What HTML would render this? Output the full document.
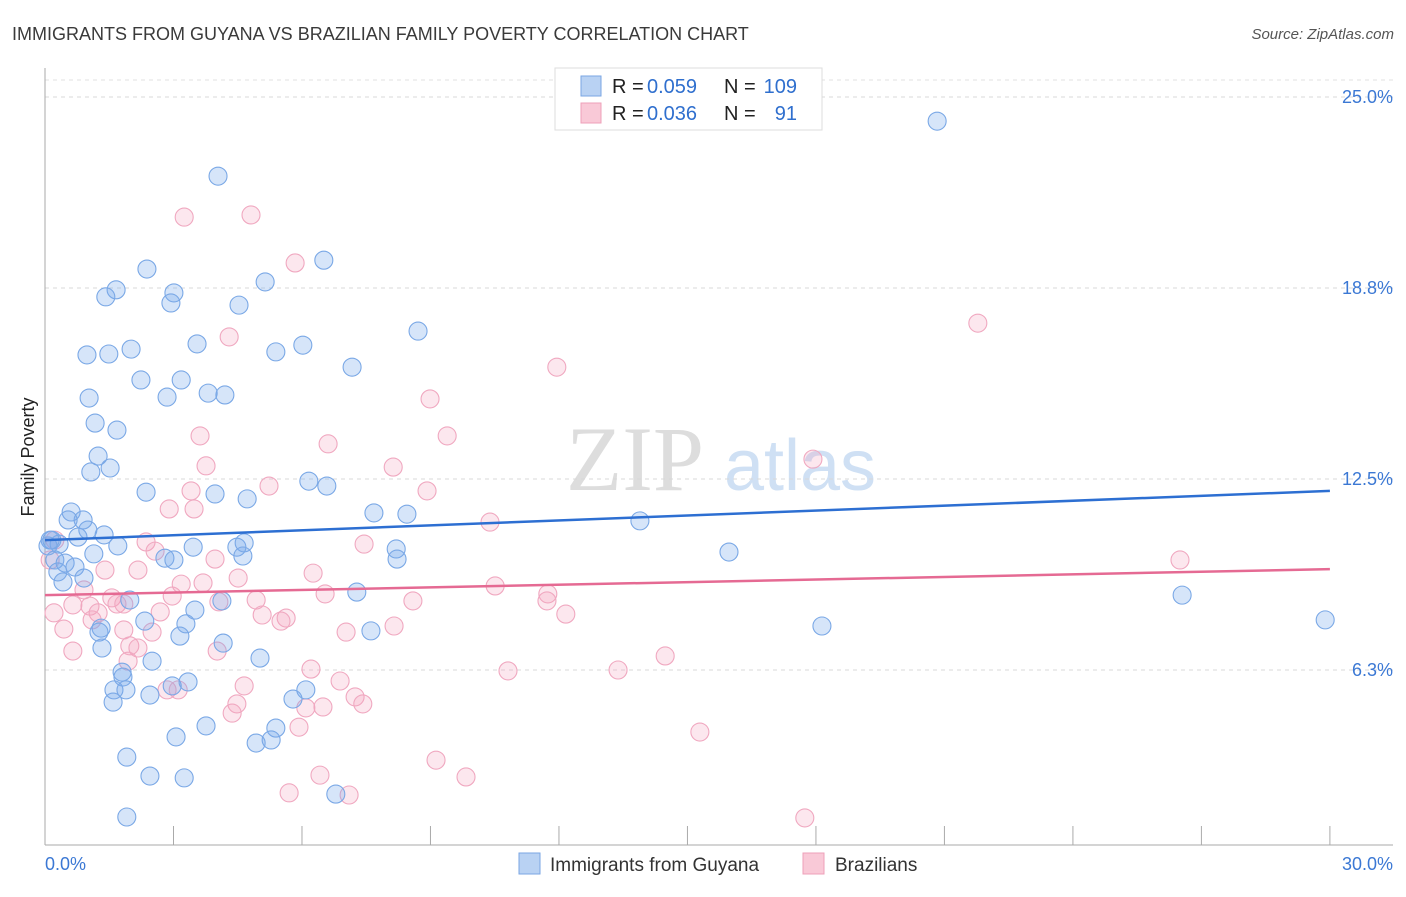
<!DOCTYPE html>
<html><head><meta charset="utf-8"><style>
body{margin:0;background:#fff;font-family:"Liberation Sans",sans-serif;}
#wrap{position:relative;width:1406px;height:892px;}
</style></head><body>
<div id="wrap">
<svg id="svg" width="1406" height="892">
<text x="12" y="40" font-size="18" fill="#3a3a3a">IMMIGRANTS FROM GUYANA VS BRAZILIAN FAMILY POVERTY CORRELATION CHART</text>
<text x="1394" y="39" font-size="15" fill="#555" font-style="italic" text-anchor="end">Source: ZipAtlas.com</text>
<text x="34" y="457" font-size="18" fill="#222" transform="rotate(-90 34 457)" text-anchor="middle">Family Poverty</text>
<g><text x="635" y="490" font-size="92" fill="#ddd" font-family="Liberation Serif,serif" text-anchor="middle">ZIP</text><text x="800" y="490" font-size="72" fill="#cfe0f4" text-anchor="middle">atlas</text></g>
<g id="grid"></g><g id="axes"></g><g id="pts"></g><g id="trend"></g>
<g>
<rect x="555" y="68" width="267" height="62" fill="#fff" stroke="#ddd"/>
<rect x="581" y="76" width="20" height="20" fill="#b9d2f3" stroke="#7aa6e3"/>
<rect x="581" y="103" width="20" height="20" fill="#f9c9d7" stroke="#eea0b8"/>
<text x="612" y="93" font-size="20" fill="#222">R =</text><text x="647" y="93" font-size="20" fill="#2f6fce">0.059</text>
<text x="724" y="93" font-size="20" fill="#222">N =</text><text x="797" y="93" font-size="20" fill="#2f6fce" text-anchor="end">109</text>
<text x="612" y="120" font-size="20" fill="#222">R =</text><text x="647" y="120" font-size="20" fill="#2f6fce">0.036</text>
<text x="724" y="120" font-size="20" fill="#222">N =</text><text x="797" y="120" font-size="20" fill="#2f6fce" text-anchor="end">91</text>
</g>
<g>
<rect x="519" y="853" width="21" height="21" fill="#b9d2f3" stroke="#7aa6e3"/>
<text x="550" y="871" font-size="19" fill="#333">Immigrants from Guyana</text>
<rect x="803" y="853" width="21" height="21" fill="#f9c9d7" stroke="#eea0b8"/>
<text x="835" y="871" font-size="19" fill="#333">Brazilians</text>
</g>
</svg></div>
<script>
const yTicks=[6.25,12.5,18.75,25];
const yTickLabels=["6.3%","12.5%","18.8%","25.0%"];
const xTicks=[0,3,6,9,12,15,18,21,24,27,30];
const xLabels=["0.0%","30.0%"];
const blueX=[20.83,4.04,6.51,2.38,5.14,1.66,1.42,3.01,2.94,4.53,8.71,2.01,1.49,0.98,3.55,5.39,6.02,7.17,2.24,3.18,1.03,2.85,3.81,4.20,1.17,1.68,1.24,1.52,1.07,6.16,6.58,2.36,3.97,4.72,0.61,0.89,0.54,7.68,8.45,13.89,1.00,1.38,0.77,0.16,0.33,1.70,3.46,4.48,4.65,8.20,15.97,1.14,2.80,3.01,4.62,8.22,0.23,0.47,0.70,0.30,0.91,0.42,7.28,26.55,1.98,4.13,3.50,2.33,3.29,29.89,18.14,1.31,3.15,7.61,1.26,4.16,1.33,2.50,5.02,1.80,1.82,2.97,3.34,1.61,1.89,6.09,2.45,5.79,1.59,3.76,5.39,3.06,5.28,4.93,1.91,2.45,3.25,6.79,1.91,0.12,0.07];
const blueY=[24.21,22.41,19.66,19.37,18.95,18.69,18.46,18.59,18.26,18.19,17.34,16.75,16.59,16.56,16.92,16.66,16.88,16.16,15.74,15.74,15.15,15.18,15.31,15.25,14.33,14.10,13.25,12.86,12.73,12.43,12.27,12.07,12.01,11.85,11.42,11.16,11.16,11.39,11.35,11.13,10.83,10.67,10.60,10.50,10.37,10.31,10.27,10.27,10.41,10.21,10.11,10.05,9.91,9.85,9.98,9.88,9.85,9.75,9.62,9.46,9.26,9.13,8.80,8.70,8.54,8.51,8.21,7.85,7.76,7.89,7.69,7.62,7.36,7.53,7.49,7.13,6.97,6.54,6.64,6.18,6.02,5.73,5.86,5.60,5.60,5.60,5.43,5.30,5.20,4.42,4.35,4.06,3.96,3.86,3.40,2.78,2.72,2.19,1.44,10.50,10.31];
const pinkX=[4.81,3.25,5.84,21.78,4.30,11.95,8.99,9.39,6.61,3.62,17.93,8.13,3.76,5.23,3.41,8.92,2.90,3.48,10.39,2.36,7.45,2.57,3.97,26.50,6.26,1.40,2.17,0.91,3.18,3.69,4.51,10.51,11.74,6.54,11.72,4.93,8.59,4.06,1.56,1.68,1.05,1.84,2.97,0.21,0.65,1.24,2.69,12.16,1.10,5.63,5.07,5.51,0.44,1.84,2.50,7.03,8.15,1.98,2.17,0.65,4.02,14.48,1.94,6.21,10.81,13.38,6.89,4.65,2.85,3.11,7.24,7.42,4.48,4.37,6.09,6.49,15.29,5.93,9.13,6.42,9.83,5.70,7.10,17.74,0.23,0.12];
const pinkY=[21.14,21.07,19.57,17.60,17.15,16.16,15.12,13.91,13.65,13.91,13.15,12.89,12.93,12.27,12.11,12.11,11.52,11.52,11.09,10.44,10.37,10.14,9.88,9.85,9.42,9.52,9.52,8.87,9.06,9.10,9.26,9.00,8.74,8.74,8.51,8.54,8.51,8.48,8.61,8.41,8.34,8.41,8.67,8.12,8.38,8.12,8.15,8.08,7.89,7.95,8.05,7.85,7.59,7.56,7.49,7.49,7.69,7.04,6.97,6.87,6.87,6.71,6.54,6.28,6.22,6.25,5.89,5.73,5.60,5.60,5.37,5.14,5.14,4.84,5.01,5.04,4.22,4.38,3.30,2.81,2.75,2.23,2.16,1.41,10.50,9.85];
const blueTrend=[10.50,12.11];
const pinkTrend=[8.70,9.55];
const X=v=>45+v*42.83, Y=v=>861-v*30.56;
const NS="http://www.w3.org/2000/svg";
function mk(tag,attrs,parent){const e=document.createElementNS(NS,tag);for(const k in attrs)e.setAttribute(k,attrs[k]);document.getElementById(parent).appendChild(e);return e;}
yTicks.forEach((t,i)=>{
 const g=mk('line',{x1:45,x2:1393,y1:Y(t),y2:Y(t),stroke:'#d8d8d8','stroke-dasharray':'4,4'},'grid');
 
 
 const l=mk('text',{x:1393,y:Y(t)+6,'font-size':18,fill:'#3b78d4','text-anchor':'end'},'grid');l.textContent=yTickLabels[i];
 
 
});
const topG=mk('line',{x1:45,x2:1393,y1:80,y2:80,stroke:'#e0e0e0','stroke-dasharray':'4,4'},'grid');
const ya=mk('line',{x1:45,x2:45,y1:68,y2:845,stroke:'#aaa'},'axes');


const xa=mk('line',{x1:45,x2:1393,y1:845,y2:845,stroke:'#aaa'},'axes');


xTicks.forEach(t=>{const k=mk('line',{x1:X(t),x2:X(t),y1:826,y2:845,stroke:'#aaa'},'axes');
 
 });
const xl0=mk('text',{x:45,y:870,'font-size':18,fill:'#3b78d4'},'axes');xl0.textContent=xLabels[0];


const xl1=mk('text',{x:1393,y:870,'font-size':18,fill:'#3b78d4','text-anchor':'end'},'axes');xl1.textContent=xLabels[1];


pinkX.forEach((v,i)=>{const c=mk('circle',{cx:X(v),cy:Y(pinkY[i]),r:9,fill:'rgba(244,160,188,0.25)',stroke:'#f0a8c0','stroke-width':1.1},'pts');
 
 });
blueX.forEach((v,i)=>{const c=mk('circle',{cx:X(v),cy:Y(blueY[i]),r:9,fill:'rgba(120,170,235,0.3)',stroke:'#7aa8e6','stroke-width':1.1},'pts');
 
 });
const bt=mk('line',{x1:X(0),x2:X(30),y1:Y(blueTrend[0]),y2:Y(blueTrend[1]),stroke:'#2d6fd2','stroke-width':2.5},'trend');


const pt=mk('line',{x1:X(0),x2:X(30),y1:Y(pinkTrend[0]),y2:Y(pinkTrend[1]),stroke:'#e56a93','stroke-width':2.5},'trend');


</script>
</body></html>
